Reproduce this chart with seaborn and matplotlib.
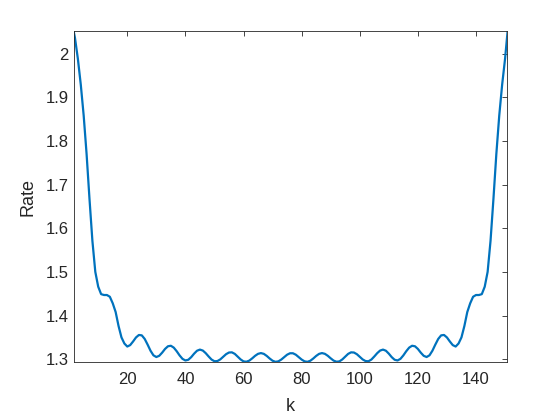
import numpy as np
import pandas as pd
import matplotlib
matplotlib.use("Agg")
import matplotlib.pyplot as plt
import matplotlib.ticker as mticker
import seaborn as sns

# ========================
# Data
# ========================

k_values = list(range(1, 152))

rate_left = [
    2.070, 2.036, 1.988, 1.929, 1.858, 1.770, 1.667, 1.571, 1.500, 1.466,
    1.449, 1.447, 1.447, 1.443, 1.428, 1.408, 1.376, 1.350, 1.336, 1.329,
    1.3323, 1.3406, 1.3498, 1.3555, 1.3546, 1.3464, 1.3334, 1.3194, 1.3089, 1.3050,
    1.3078, 1.3150, 1.3235, 1.3296, 1.3308, 1.3265, 1.3183, 1.3087, 1.3008, 1.2971,
    1.2987, 1.3047, 1.3127, 1.3194, 1.3220, 1.3198, 1.3138, 1.3062, 1.2992, 1.2953,
    1.2957, 1.2995, 1.3055, 1.3115, 1.3153, 1.3157, 1.3122, 1.3060, 1.2995, 1.2950,
    1.2942, 1.2968, 1.3020, 1.3078, 1.3123, 1.3140, 1.3122, 1.3075, 1.3016, 1.2965,
    1.2940, 1.2951, 1.2992, 1.3049, 1.3103, 1.3136,
]

rate_right = [
    1.3136, 1.3103, 1.3049, 1.2992, 1.2951, 1.2940, 1.2965, 1.3016, 1.3075, 1.3122,
    1.3140, 1.3123, 1.3078, 1.3020, 1.2968, 1.2942, 1.2950, 1.2995, 1.3060, 1.3122,
    1.3157, 1.3153, 1.3115, 1.3055, 1.2995, 1.2957, 1.2953, 1.2992, 1.3062, 1.3138,
    1.3198, 1.3220, 1.3194, 1.3127, 1.3047, 1.2987, 1.2971, 1.3008, 1.3087, 1.3183,
    1.3265, 1.3308, 1.3296, 1.3235, 1.3150, 1.3078, 1.3050, 1.3089, 1.3194, 1.3334,
    1.3464, 1.3546, 1.3555, 1.3498, 1.3406, 1.3323, 1.3290, 1.3360, 1.3500, 1.3760,
    1.4080, 1.4280, 1.4430, 1.4470, 1.4470, 1.4490, 1.4660, 1.5000, 1.5710, 1.6670,
    1.7700, 1.8580, 1.9290, 1.9880, 2.0600,
]

x_ticks = [20, 40, 60, 80, 100, 120, 140]
y_ticks = [1.3, 1.4, 1.5, 1.6, 1.7, 1.8, 1.9, 2.0]

df = pd.DataFrame({"k": k_values, "Rate": rate_left + rate_right})

# ========================
# Plot
# ========================

sns.set_style("white")
plt.rcParams["font.family"] = ["Liberation Sans", "DejaVu Sans"]

fig = plt.figure(figsize=(5.6, 4.2), dpi=100)
ax = fig.add_axes([0.1321, 0.138, 0.7727, 0.788])

sns.lineplot(data=df, x="k", y="Rate", ax=ax, color="#0072BD", linewidth=1.6)

ax.set_xlim(1.66, 150.56)
ax.set_ylim(1.2935, 2.0515)
ax.set_xticks(x_ticks)
ax.set_yticks(y_ticks)
ax.yaxis.set_major_formatter(mticker.FormatStrFormatter("%g"))

dark = "#262626"
for side in ["left", "right", "top", "bottom"]:
    ax.spines[side].set_visible(True)
    ax.spines[side].set_color(dark)
    ax.spines[side].set_linewidth(0.6)

ax.tick_params(direction="in", length=3.5, width=0.6, colors=dark,
               labelsize=12, top=True, right=True)
ax.tick_params(axis="x", pad=7)
ax.tick_params(axis="y", pad=4)
ax.set_xlabel("k", fontsize=13, color=dark, labelpad=8)
ax.set_ylabel("Rate", fontsize=13, color=dark, labelpad=6)

fig.savefig("out.png", dpi=100, facecolor="white")
